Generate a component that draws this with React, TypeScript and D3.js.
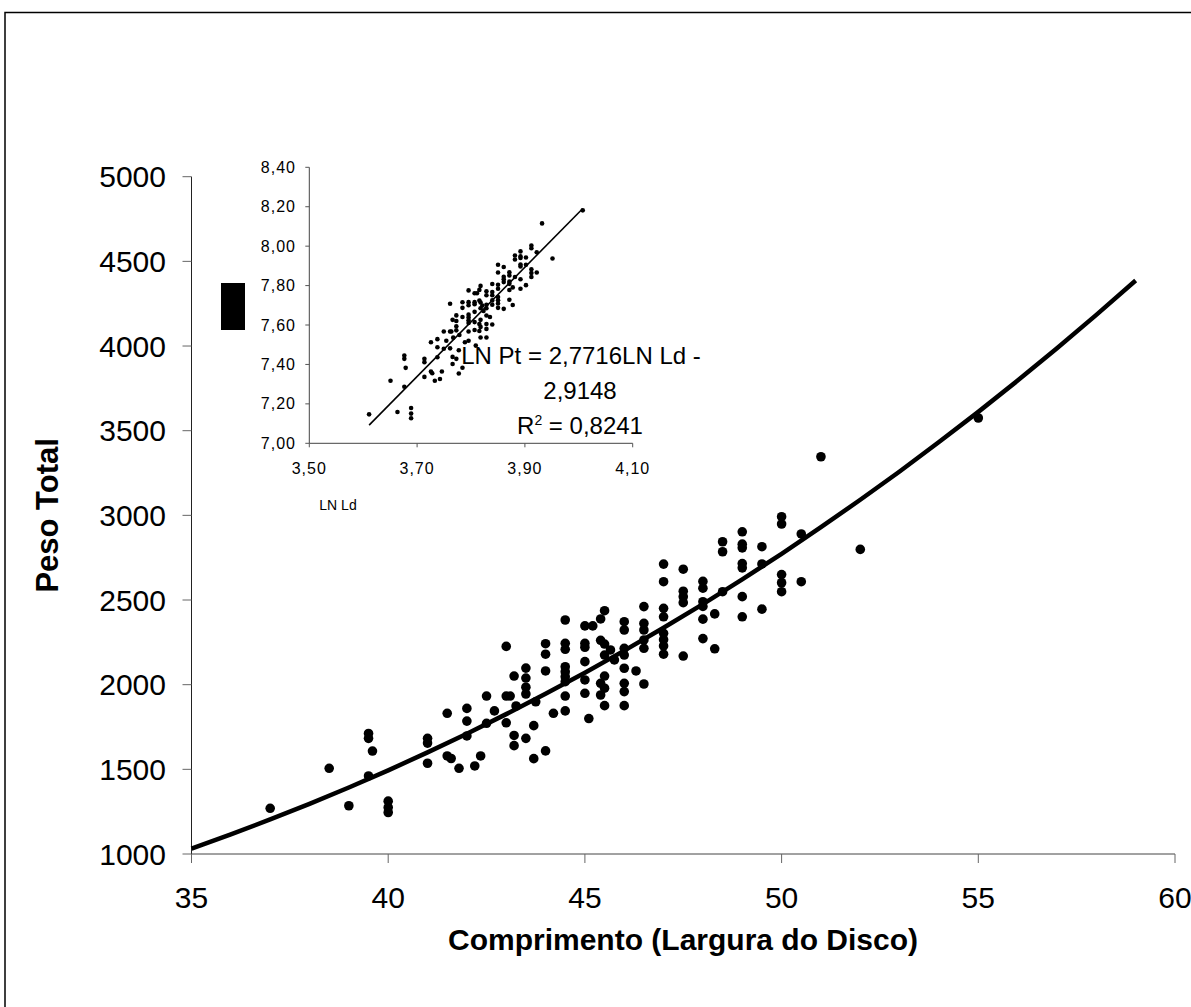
import React from 'react'
import * as d3 from 'd3'

// disc width (cm) and total weight (g)
const discWidth = [
  37, 38.5, 39, 39.5, 39.5, 39.5, 39.6, 40, 40, 40,
  41, 41, 41, 41.5, 41.5, 41.6, 41.8, 42, 42, 42,
  42.2, 42.35, 42.5, 42.5, 42.7, 43, 43, 43.1, 43, 43.2,
  43.2, 43.2, 43.25, 43.5, 43.5, 43.5, 43.5, 43.5, 43.7, 43.7,
  43.75, 44, 44, 44, 44, 44.2, 44.5, 44.5, 44.5, 44.5,
  44.5, 44.5, 44.5, 44.5, 44.5, 45, 45, 45, 45, 45,
  45, 45.1, 45.2, 45.5, 45.4, 45.4, 45.5, 45.5, 45.65, 45.75,
  45.5, 45.4, 45.5, 45.4, 45.5, 46, 46, 46, 46, 46,
  46, 46, 46, 46.3, 46.5, 46.5, 46.5, 46.5, 46.5, 46.5,
  47, 47, 47, 47, 47, 47, 47, 47, 47.5, 47.5,
  47.5, 47.5, 47.5, 48, 48, 48, 48, 48, 48, 48.3,
  48.3, 48.5, 48.5, 48.5, 49, 49, 49, 49, 49, 49,
  49, 49.5, 49.5, 49.5, 50, 50, 50, 50, 50, 50.5,
  50.5, 51, 52, 55,
]
const totalWeight = [
  1270, 1506, 1285, 1712, 1683, 1461, 1608, 1312, 1275, 1245,
  1683, 1655, 1536, 1831, 1579, 1564, 1506, 1860, 1785, 1697,
  1520, 1579, 1933, 1772, 1845, 2226, 1933, 1933, 1775, 2051,
  1700, 1640, 1874, 2098, 2039, 1985, 1945, 1683, 1758, 1563,
  1899, 2242, 2180, 2081, 1609, 1831, 2382, 2244, 2209, 2106,
  2077, 2047, 2018, 1933, 1845, 2347, 2244, 2221, 2136, 2028,
  1949, 1800, 2347, 2437, 2388, 2262, 2240, 2175, 2205, 2146,
  2051, 2008, 1979, 1939, 1876, 2372, 2323, 2215, 2175, 2097,
  2008, 1959, 1876, 2081, 2461, 2362, 2323, 2264, 2215, 2004,
  2712, 2608, 2451, 2401, 2303, 2266, 2229, 2180, 2682, 2552,
  2520, 2484, 2169, 2610, 2570, 2490, 2462, 2387, 2272, 2418,
  2212, 2844, 2785, 2549, 2903, 2830, 2808, 2715, 2690, 2520,
  2401, 2815, 2713, 2446, 2992, 2949, 2650, 2602, 2549, 2890,
  2608, 3346, 2799, 3575,
]

// fitted curve as drawn on the main chart
const fitWidth = [35, 36, 37, 38, 39, 40, 41, 42, 43, 44, 45, 46, 47, 48, 49, 50, 51, 52, 53, 54, 55, 56, 57, 58, 59]
const fitWeight = [
  1032, 1116, 1204, 1296, 1393, 1494, 1600, 1710, 1826, 1946, 2071, 2201, 2336,
  2476, 2622, 2773, 2930, 3092, 3259, 3433, 3611, 3796, 3987, 4184, 4387,
]

// inset regression line (LN Ld vs LN Pt)
const insetFitLnLd = [3.611, 4.007]
const insetFitLnPt = [7.092, 8.19]

const xTicks = [35, 40, 45, 50, 55, 60]
const yTicks = [1000, 1500, 2000, 2500, 3000, 3500, 4000, 4500, 5000]
const insetXTicks = [3.5, 3.7, 3.9, 4.1]
const insetYTicks = [7.0, 7.2, 7.4, 7.6, 7.8, 8.0, 8.2, 8.4]

const font = "'Liberation Sans', Arial, sans-serif"
const comma = (v: number) => v.toFixed(2).replace('.', ',')

export default function App() {
  const width = 1191
  const height = 1007

  const x = d3.scaleLinear().domain([35, 60]).range([191.5, 1175])
  const y = d3.scaleLinear().domain([1000, 5000]).range([854, 176.7])

  const ix = d3.scaleLinear().domain([3.5, 4.1]).range([309.3, 632.7])
  const iy = d3.scaleLinear().domain([7.0, 8.4]).range([443.3, 167.3])

  const points = discWidth.map((d, i) => ({ ld: d, pt: totalWeight[i] }))

  const fitLine = d3
    .line<number>()
    .x((d) => x(d))
    .y((d, i) => y(fitWeight[i]))
  const insetLine = d3
    .line<number>()
    .x((d) => ix(d))
    .y((d, i) => iy(insetFitLnPt[i]))

  return (
    <svg width={width} height={height} style={{ position: 'absolute', left: 0, top: 0, background: '#fff' }} fontFamily={font}>
      {/* outer frame */}
      <path d={`M5,${height} V12.5 H${width}`} fill="none" stroke="#000" strokeWidth={1.5} />

      {/* main axes */}
      <line x1={x(35)} x2={x(35)} y1={y(5000)} y2={y(1000)} stroke="#222" />
      <line x1={x(35)} x2={x(60)} y1={y(1000)} y2={y(1000)} stroke="#444" />
      {yTicks.map((t) => (
        <g key={'y' + t}>
          <line x1={x(35) - 9} x2={x(35)} y1={y(t)} y2={y(t)} stroke="#666" />
          <text x={166} y={y(t)} dy="0.35em" textAnchor="end" fontSize={30}>
            {t}
          </text>
        </g>
      ))}
      {xTicks.map((t) => (
        <g key={'x' + t}>
          <line x1={x(t)} x2={x(t)} y1={y(1000)} y2={y(1000) + 9} stroke="#666" />
          <text x={x(t)} y={897} dy="0.35em" textAnchor="middle" fontSize={30}>
            {t}
          </text>
        </g>
      ))}
      <text x={683} y={939} dy="0.35em" textAnchor="middle" fontSize={30} fontWeight="bold">
        Comprimento (Largura do Disco)
      </text>
      <text transform={`translate(47,${(y(1000) + y(5000)) / 2}) rotate(-90)`} dy="0.35em" textAnchor="middle" fontSize={31} fontWeight="bold">
        Peso Total
      </text>

      {/* legend marker left of the inset */}
      <rect x={221} y={283} width={24} height={47} fill="#000" />

      {/* fitted power curve and data */}
      <path d={fitLine(fitWidth) ?? ''} fill="none" stroke="#000" strokeWidth={4.5} strokeLinejoin="round" />
      {points.map((p, i) => (
        <circle key={'p' + i} cx={x(p.ld)} cy={y(p.pt)} r={4.8} fill="#000" />
      ))}

      {/* inset: log-log plot */}
      <line x1={ix(3.5)} x2={ix(3.5)} y1={iy(8.4)} y2={iy(7)} stroke="#444" />
      <line x1={ix(3.5)} x2={ix(4.1)} y1={iy(7)} y2={iy(7)} stroke="#444" />
      {insetYTicks.map((t) => (
        <g key={'iy' + t}>
          <line x1={ix(3.5) - 4} x2={ix(3.5)} y1={iy(t)} y2={iy(t)} stroke="#555" />
          <text x={296} y={iy(t)} dy="0.35em" textAnchor="end" fontSize={16} letterSpacing={1}>
            {comma(t)}
          </text>
        </g>
      ))}
      {insetXTicks.map((t) => (
        <g key={'ix' + t}>
          <line x1={ix(t)} x2={ix(t)} y1={iy(7)} y2={iy(7) + 4} stroke="#555" />
          <text x={ix(t)} y={468} dy="0.35em" textAnchor="middle" fontSize={16} letterSpacing={1}>
            {comma(t)}
          </text>
        </g>
      ))}
      <text x={338} y={505} dy="0.35em" textAnchor="middle" fontSize={14}>
        LN Ld
      </text>
      {points.map((p, i) => (
        <circle key={'ip' + i} cx={ix(Math.log(p.ld))} cy={iy(Math.log(p.pt))} r={2.3} fill="#000" />
      ))}
      <path d={insetLine(insetFitLnLd) ?? ''} fill="none" stroke="#000" strokeWidth={1.6} />

      <g fontSize={24} textAnchor="middle">
        <text x={581} y={364}>LN Pt = 2,7716LN Ld -</text>
        <text x={580} y={399}>2,9148</text>
        <text x={580} y={434}>
          R<tspan dy={-9} fontSize={14}>2</tspan>
          <tspan dy={9}> = 0,8241</tspan>
        </text>
      </g>
    </svg>
  )
}
